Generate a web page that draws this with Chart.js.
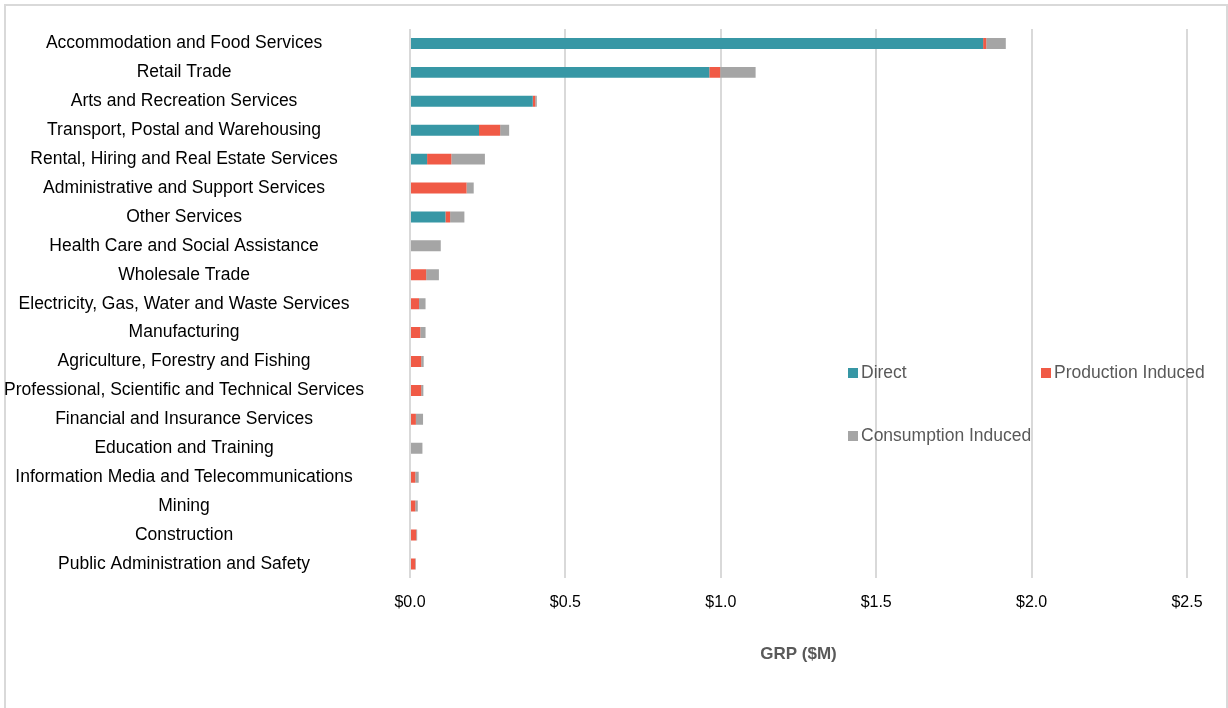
<!DOCTYPE html>
<html>
<head>
<meta charset="utf-8">
<script src="https://cdn.jsdelivr.net/npm/chart.js@4.4.1/dist/chart.umd.min.js"></script>
<style>
  html, body { margin: 0; padding: 0; background: #fff; }
  body { width: 1228px; height: 708px; overflow: hidden; position: relative; font-family: "Liberation Sans", Arial, sans-serif; }
  #frame { position: absolute; left: 4px; top: 4px; width: 1224px; height: 720px; border: 2px solid #d9d9d9; box-sizing: border-box; }
  #wrap { position: absolute; left: 0; top: 0; width: 1228px; height: 708px; }
  .legend { position: absolute; font-size: 17.5px; color: #595959; white-space: nowrap; }
  .legend i { display: inline-block; width: 10px; height: 10px; margin-right: 3px; vertical-align: 0px; }
</style>
</head>
<body>
<div id="frame"></div>
<div id="wrap"><canvas id="grpChart" width="1228" height="708"></canvas></div>
<div class="legend" style="left:848px; top:362px;"><i style="background:#3797a5"></i>Direct</div>
<div class="legend" style="left:1041px; top:362px;"><i style="background:#f05a46"></i>Production Induced</div>
<div class="legend" style="left:848px; top:425px;"><i style="background:#a5a5a5"></i>Consumption Induced</div>
<script>
// ── Data ──────────────────────────────────────────────
const CATEGORIES = [
  'Accommodation and Food Services',
  'Retail Trade',
  'Arts and Recreation Services',
  'Transport, Postal and Warehousing',
  'Rental, Hiring and Real Estate Services',
  'Administrative and Support Services',
  'Other Services',
  'Health Care and Social Assistance',
  'Wholesale Trade',
  'Electricity, Gas, Water and Waste Services',
  'Manufacturing',
  'Agriculture, Forestry and Fishing',
  'Professional, Scientific and Technical Services',
  'Financial and Insurance Services',
  'Education and Training',
  'Information Media and Telecommunications',
  'Mining',
  'Construction',
  'Public Administration and Safety'
];

const DIRECT      = [1.844, 0.963, 0.395, 0.222, 0.055, 0, 0.114, 0, 0, 0, 0, 0, 0, 0, 0, 0, 0, 0, 0];
const PRODUCTION  = [0.010, 0.035, 0.008, 0.068, 0.078, 0.182, 0.015, 0, 0.052, 0.029, 0.033, 0.036, 0.036, 0.019, 0, 0.017, 0.017, 0.020, 0.017];
const CONSUMPTION = [0.063, 0.114, 0.005, 0.029, 0.108, 0.023, 0.046, 0.099, 0.041, 0.021, 0.017, 0.008, 0.007, 0.023, 0.040, 0.011, 0.008, 0.003, 0.002];

const X_MIN = 0;
const X_MAX = 2.5;
const X_STEP = 0.5;

// ── Chart ─────────────────────────────────────────────
const ctx = document.getElementById('grpChart').getContext('2d');

const barOpts = { barPercentage: 0.76, categoryPercentage: 0.5 };

new Chart(ctx, {
  type: 'bar',
  data: {
    labels: CATEGORIES,
    datasets: [
      { label: 'Direct', data: DIRECT, backgroundColor: '#3797a5', ...barOpts },
      { label: 'Production Induced', data: PRODUCTION, backgroundColor: '#f05a46', ...barOpts },
      { label: 'Consumption Induced', data: CONSUMPTION, backgroundColor: '#a5a5a5', ...barOpts }
    ]
  },
  options: {
    indexAxis: 'y',
    responsive: false,
    animation: false,
    layout: { padding: { left: 0, right: 41, top: 29, bottom: 39 } },
    plugins: {
      legend: { display: false },
      tooltip: { enabled: false }
    },
    scales: {
      x: {
        stacked: true,
        min: X_MIN,
        max: X_MAX,
        ticks: {
          stepSize: X_STEP,
          color: '#000',
          padding: 15,
          font: { family: '"Liberation Sans", Arial', size: 16 },
          callback: v => '$' + Number(v).toFixed(1)
        },
        grid: { color: '#d9d9d9', lineWidth: 2, drawTicks: false },
        border: { display: false },
        title: {
          display: true,
          text: 'GRP ($M)',
          color: '#595959',
          font: { family: '"Liberation Sans", Arial', size: 17, weight: 'bold' },
          padding: { top: 17 }
        }
      },
      y: {
        stacked: true,
        afterFit: axis => {
          // fixed label column; tick padding must not push the plot down
          axis.width = 410;
          axis.paddingTop = 0;
          axis.paddingBottom = 0;
        },
        ticks: {
          crossAlign: 'center',
          color: '#000',
          padding: 38,
          font: { family: '"Liberation Sans", Arial', size: 17.5 }
        },
        grid: { display: false },
        border: { display: false }
      }
    }
  }
});
</script>
</body>
</html>
